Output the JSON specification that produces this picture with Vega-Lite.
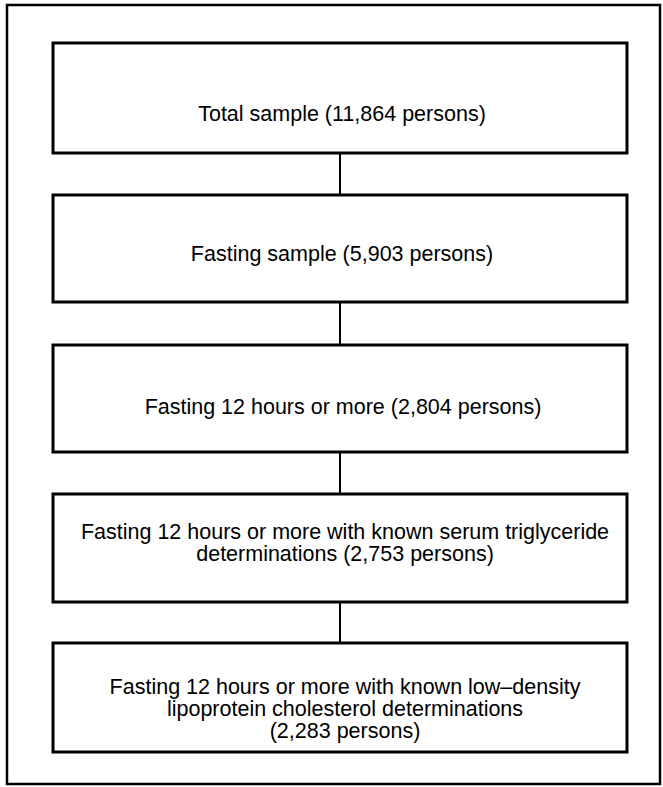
{
  "$schema": "https://vega.github.io/schema/vega-lite/v6.json",
  "width": 663,
  "height": 787,
  "padding": 0,
  "autosize": {"type": "none"},
  "background": "white",
  "config": {"view": {"stroke": null}},
  "datasets": {
    "frame": [{"x1": 7, "x2": 660, "y1": 5, "y2": 784}],
    "boxes": [
      {"x1": 53, "x2": 627, "y1": 43, "y2": 153},
      {"x1": 53, "x2": 627, "y1": 195, "y2": 302},
      {"x1": 53, "x2": 627, "y1": 345, "y2": 452},
      {"x1": 53, "x2": 627, "y1": 494, "y2": 602},
      {"x1": 53, "x2": 627, "y1": 643, "y2": 752}
    ],
    "links": [
      {"x": 340, "y1": 153, "y2": 195},
      {"x": 340, "y1": 302, "y2": 345},
      {"x": 340, "y1": 452, "y2": 494},
      {"x": 340, "y1": 602, "y2": 643}
    ],
    "labels": [
      {"x": 342, "y": 115, "text": "Total sample (11,864 persons)"},
      {"x": 342, "y": 255, "text": "Fasting sample (5,903 persons)"},
      {"x": 343, "y": 408, "text": "Fasting 12 hours or more (2,804 persons)"},
      {"x": 345, "y": 533, "text": "Fasting 12 hours or more with known serum triglyceride"},
      {"x": 345, "y": 555, "text": "determinations (2,753 persons)"},
      {"x": 345, "y": 688, "text": "Fasting 12 hours or more with known low–density"},
      {"x": 345, "y": 710, "text": "lipoprotein cholesterol determinations"},
      {"x": 345, "y": 732, "text": "(2,283 persons)"}
    ]
  },
  "layer": [
    {
      "data": {"name": "frame"},
      "mark": {"type": "rect", "filled": false, "stroke": "black", "strokeWidth": 2.5},
      "encoding": {
        "x": {"field": "x1", "type": "quantitative", "scale": {"domain": [0, 663], "nice": false, "zero": false}, "axis": null},
        "x2": {"field": "x2"},
        "y": {"field": "y1", "type": "quantitative", "scale": {"domain": [0, 787], "nice": false, "zero": false, "reverse": true}, "axis": null},
        "y2": {"field": "y2"}
      }
    },
    {
      "data": {"name": "links"},
      "mark": {"type": "rule", "stroke": "black", "strokeWidth": 2},
      "encoding": {
        "x": {"field": "x", "type": "quantitative", "scale": {"domain": [0, 663], "nice": false, "zero": false}, "axis": null},
        "y": {"field": "y1", "type": "quantitative", "scale": {"domain": [0, 787], "nice": false, "zero": false, "reverse": true}, "axis": null},
        "y2": {"field": "y2"}
      }
    },
    {
      "data": {"name": "boxes"},
      "mark": {"type": "rect", "filled": false, "stroke": "black", "strokeWidth": 3},
      "encoding": {
        "x": {"field": "x1", "type": "quantitative", "scale": {"domain": [0, 663], "nice": false, "zero": false}, "axis": null},
        "x2": {"field": "x2"},
        "y": {"field": "y1", "type": "quantitative", "scale": {"domain": [0, 787], "nice": false, "zero": false, "reverse": true}, "axis": null},
        "y2": {"field": "y2"}
      }
    },
    {
      "data": {"name": "labels"},
      "mark": {"type": "text", "font": "Liberation Sans", "fontSize": 21.5, "fill": "black", "align": "center", "baseline": "middle"},
      "encoding": {
        "x": {"field": "x", "type": "quantitative", "scale": {"domain": [0, 663], "nice": false, "zero": false}, "axis": null},
        "y": {"field": "y", "type": "quantitative", "scale": {"domain": [0, 787], "nice": false, "zero": false, "reverse": true}, "axis": null},
        "text": {"field": "text"}
      }
    }
  ]
}
